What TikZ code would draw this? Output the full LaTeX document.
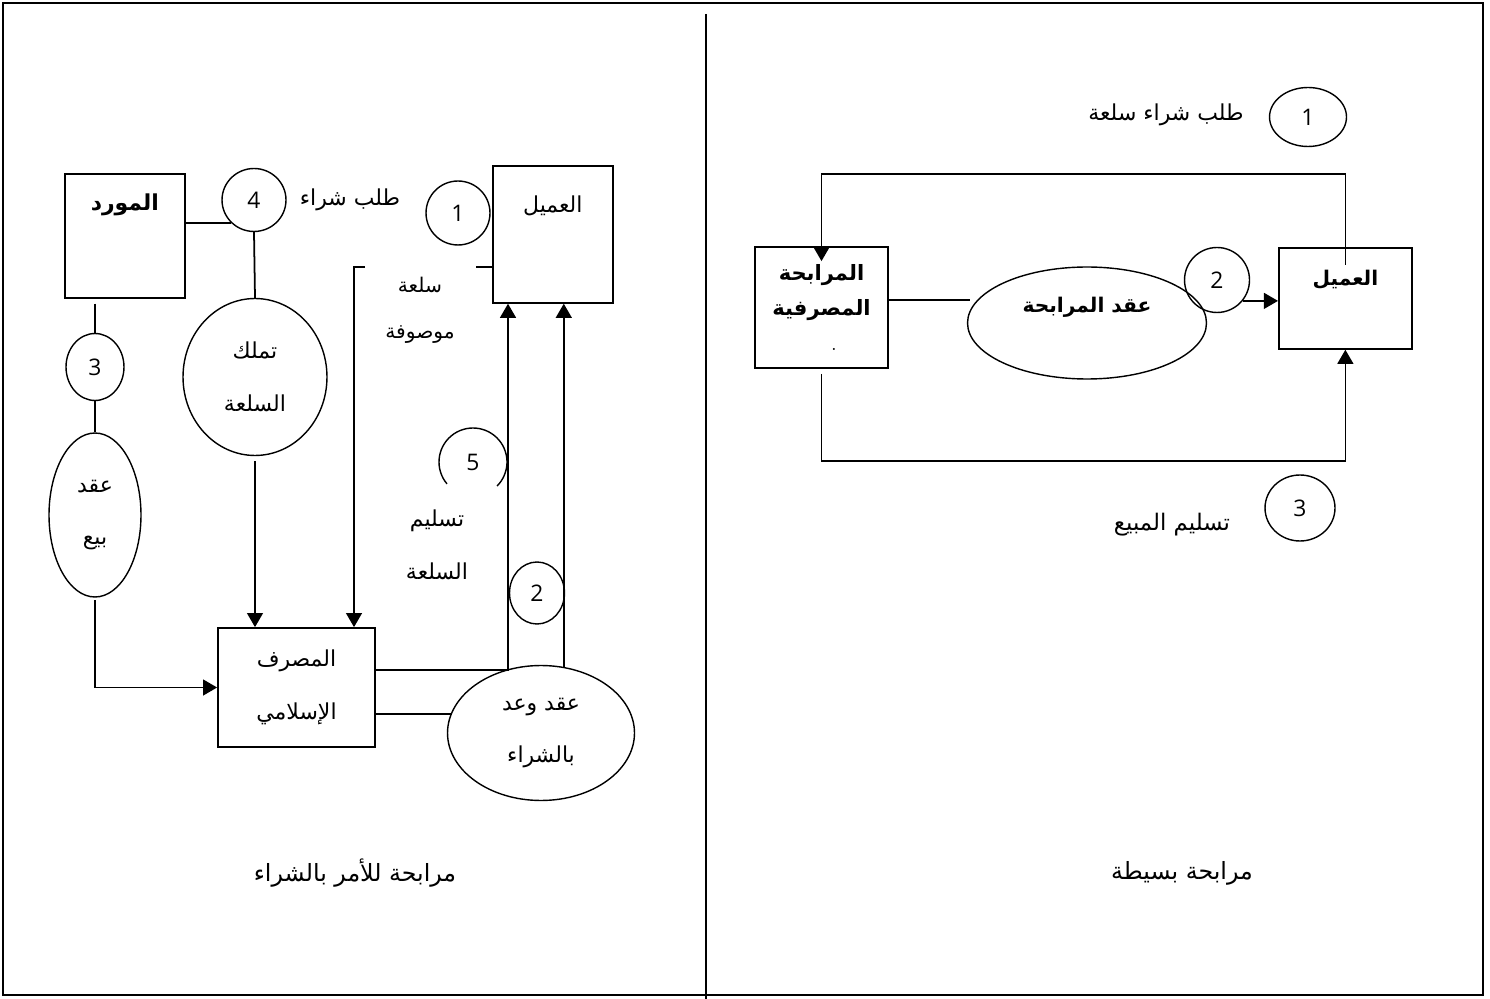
\documentclass[tikz,border=0pt]{standalone}
\usepackage{fontspec}
\usepackage{tikz}
\usetikzlibrary{arrows.meta,shapes.geometric}
\TeXXeTstate=1
\newfontfamily\arabicfont[Script=Arabic]{DejaVu Sans}
\newfontfamily\numfont{Open Sans}
\newcommand{\artxt}[1]{{\arabicfont\beginR #1\endR}}

\begin{document}
\begin{tikzpicture}[x=0.02cm, y=-0.02cm, >={Triangle[length=8pt,width=9pt]}, line width=1pt,
  every node/.style={font=\fontsize{12.5}{30}\selectfont, align=center},
  box/.style={draw, rectangle, inner sep=0pt},
  oval/.style={draw, ellipse, inner sep=0pt, line width=0.8pt},
  num/.style={draw, ellipse, inner sep=0pt, line width=0.8pt, font=\numfont\fontsize{13}{14}\selectfont}]
\useasboundingbox (0,0) rectangle (1490,999);
\draw (3,3) rectangle (1483,995);
\draw (706,14) -- (706,999);

% left: murabaha for the purchase orderer
\node[box, anchor=north west, minimum width=2.4cm, text height=0.74cm, text depth=1.74cm] (mwrd) at (64,173) {\artxt{\bfseries المورد}};
\node[num, minimum width=1.28cm, minimum height=1.26cm] (c4) at (254,200) {4};
\node (talab) at (350,200) {\artxt{طلب شراء}};
\node[num, minimum size=1.28cm] (c1L) at (458,213) {1};
\node[box, anchor=north west, minimum width=2.4cm, text height=0.94cm, text depth=1.8cm] (amilL) at (492,165) {\artxt{العميل}};
\node[font=\fontsize{11.5}{26}\selectfont] (mawsufa) at (420,310) {\artxt{سلعة}\\\artxt{موصوفة}};
\node[num, minimum width=1.16cm, minimum height=1.34cm] (c3L) at (95,367) {3};
\node[oval, minimum width=2.88cm, minimum height=3.14cm] (tamalluk) at (255,377) {\artxt{تملك}\\\artxt{السلعة}};
\node[oval, minimum width=1.84cm, minimum height=3.28cm] (aqdbay) at (95,515) {\artxt{عقد}\\\artxt{بيع}};
\node[box, minimum width=3.14cm, minimum height=2.38cm] (masrif) at (296.5,687.5) {\artxt{المصرف}\\\artxt{الإسلامي}};
\node[font=\numfont\fontsize{13}{14}\selectfont] (c5) at (473,462) {5};
\node (taslim) at (437,545) {\artxt{تسليم}\\\artxt{السلعة}};
\node[num, minimum width=1.1cm, minimum height=1.24cm] (c2L) at (537,593) {2};
\node[oval, minimum width=3.74cm, minimum height=2.7cm] (waad) at (541,733) {\artxt{عقد وعد}\\\artxt{بالشراء}};
\node[font=\fontsize{13.5}{16}\selectfont] (titleL) at (355,873) {\artxt{مرابحة للأمر بالشراء}};

\draw (c4.226 -| mwrd.east) -- (c4.226);
\draw (c4.south) -- (tamalluk.north);
\draw[->, shorten <=0.1cm] (tamalluk.south) -- (tamalluk.south |- masrif.north);
\draw[shorten <=0.1cm] (mwrd.south -| c3L.north) -- (c3L.north);
\draw (c3L.south) -- (aqdbay.north);
\draw[->, shorten <=0.05cm] (aqdbay.south) |- (masrif.west);
\coordinate (gapR) at (476,267);
\coordinate (gapL) at (365,267);
\coordinate (bend) at (354,267);
\draw (gapR -| amilL.west) -- (gapR);
\draw[->] (gapL) -- (bend) -- (bend |- masrif.north);
\coordinate (j1) at (508,670);
\draw[->] (j1 -| masrif.east) -- (j1) -- (j1 |- amilL.south);
\draw[->] (waad.71) -- (waad.71 |- amilL.south);
\draw (waad.168 -| masrif.east) -- (waad.168);
\draw[line width=0.8pt] (c5.center) ++(220:0.68cm) arc[start angle=220, end angle=-45, radius=0.68cm];

% right: simple murabaha
\node[box, minimum width=2.66cm, minimum height=2.42cm, font=\fontsize{12}{20}\selectfont] (mrbh) at (821.5,307.5) {\artxt{\bfseries المرابحة}\\\artxt{\bfseries المصرفية}\\\hspace*{0.5cm}.};
\node[oval, minimum width=4.78cm, minimum height=2.24cm, text height=0.4cm, text depth=0.8cm, font=\fontsize{11.5}{14}\selectfont] (aqdM) at (1087,323) {\artxt{\bfseries عقد المرابحة}};
\node[num, minimum size=1.3cm] (c2R) at (1217,280) {2};
\node[box, anchor=north west, minimum width=2.66cm, text height=0.76cm, text depth=1.26cm, font=\fontsize{11.5}{14}\selectfont] (amilR) at (1278,247) {\artxt{\bfseries العميل}};
\node[num, minimum width=1.54cm, minimum height=1.18cm] (c1R) at (1308,117) {1};
\node (talabR) at (1166,115) {\artxt{طلب شراء سلعة}};
\node[num, minimum width=1.4cm, minimum height=1.32cm] (c3R) at (1300,508) {3};
\node[font=\fontsize{13}{16}\selectfont] (taslimR) at (1172,525) {\artxt{تسليم المبيع}};
\node[font=\fontsize{13.5}{16}\selectfont] (titleR) at (1182,873) {\artxt{مرابحة بسيطة}};

\coordinate (m1) at (970,300);
\draw (m1 -| mrbh.east) -- (m1);
\draw[->] (c2R.-39) -- (c2R.-39 -| amilR.west);
\draw[->, shorten <=-0.36cm, shorten >=-0.3cm] (amilR.north) -- ++(0,-73) -| (mrbh.north);
\draw[->, shorten <=0.1cm] (mrbh.south) -- ++(0,92) -| (amilR.south);
\end{tikzpicture}
\end{document}
